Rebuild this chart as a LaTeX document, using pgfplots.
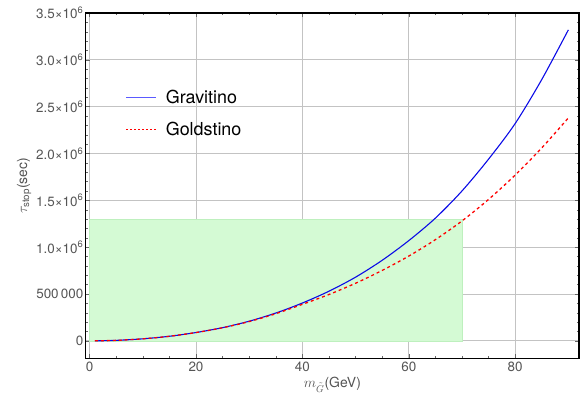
\documentclass[border=0pt]{standalone}
\usepackage{amsmath}
\usepackage{fontspec}
\setmainfont{TeX Gyre Heros}
\usepackage{pgfplots}
\pgfplotsset{compat=1.18}
\definecolor{tickgray}{RGB}{85,85,85}
\definecolor{boxgreen}{RGB}{212,250,212}
\definecolor{boxedge}{RGB}{190,240,190}
\definecolor{gridgray}{RGB}{195,195,195}
\definecolor{gblue}{RGB}{10,10,230}
\definecolor{lblue}{RGB}{90,90,255}
\begin{document}
\begin{tikzpicture}
\begin{axis}[
  scale only axis,
  width=494bp, height=346bp,
  xmin=-0.7, xmax=92,
  ymin=-187000, ymax=3.5e6,
  axis line style={black, line width=1.3pt},
  xtick={0,20,40,60,80},
  ytick={0,500000,1000000,1500000,2000000,2500000,3000000,3500000},
  yticklabels={0, 500\,000, 1.0×10\textsuperscript{6}, 1.5×10\textsuperscript{6}, 2.0×10\textsuperscript{6}, 2.5×10\textsuperscript{6}, 3.0×10\textsuperscript{6}, 3.5×10\textsuperscript{6}},
  xticklabels={0,20,40,60,80},
  minor x tick num=3,
  minor y tick num=4,
  tick align=inside,
  major tick length=4pt,
  minor tick length=2pt,
  tick style={black!60, line width=0.4pt},
  grid=major,
  major grid style={gridgray, line width=0.8pt},
  ticklabel style={font=\fontsize{13.5}{15}\selectfont, text=tickgray},
  yticklabel style={xshift=1pt},
  scaled y ticks=false,
  xlabel={\fontsize{14}{16}\selectfont $m_{\tilde{G}}$(GeV)},
  ylabel={\fontsize{14}{16}\selectfont $\tau_{\text{stop}}$(sec)},
  xlabel style={text=tickgray, yshift=1pt},
  ylabel style={text=tickgray, yshift=-2pt},
  legend style={draw=none, fill=none, at={(0.075,0.79)}, anchor=north west, font=\fontsize{18}{21}\selectfont, row sep=14pt,
    /tikz/every odd column/.append style={column sep=7bp}},
  legend cell align=left,
  legend image code/.code={\draw[#1] (0bp,0bp) -- (30bp,0bp);},
]
\addplot[fill=boxgreen, draw=boxedge, line width=0.5pt, forget plot] coordinates {(0,0) (70,0) (70,1300000) (0,1300000)} -- cycle;
\addlegendimage{lblue, line width=0.7pt}
\addlegendentry{Gravitino}
\addlegendimage{red, line width=0.9pt, dash pattern=on 2pt off 2pt}
\addlegendentry{Goldstino}
\addplot[gblue, line width=1.1pt, smooth, forget plot] coordinates {
(1,200) (5,5400) (10,21800) (15,49000) (20,89000) (25,141000) (30,210000) (35,297000) (40,404000) (45,530000) (50,680000) (55,860000) (60,1070000) (65,1310000) (70,1600000) (75,1940000) (80,2320000) (85,2790000) (90,3320000)};
\addplot[red, line width=1.3pt, dash pattern=on 3pt off 3pt, smooth, forget plot] coordinates {
(1,200) (5,5400) (10,21800) (15,49000) (20,89000) (25,140000) (30,206000) (35,290000) (40,390000) (45,495000) (50,615000) (55,752000) (60,905000) (65,1080000) (70,1280000) (75,1510000) (80,1770000) (85,2060000) (90,2380000)};
\end{axis}
\pgfresetboundingbox
\path (current axis.south west) +(-86bp,-37bp) (current axis.north east) +(7bp,13bp);
\end{tikzpicture}
\end{document}
